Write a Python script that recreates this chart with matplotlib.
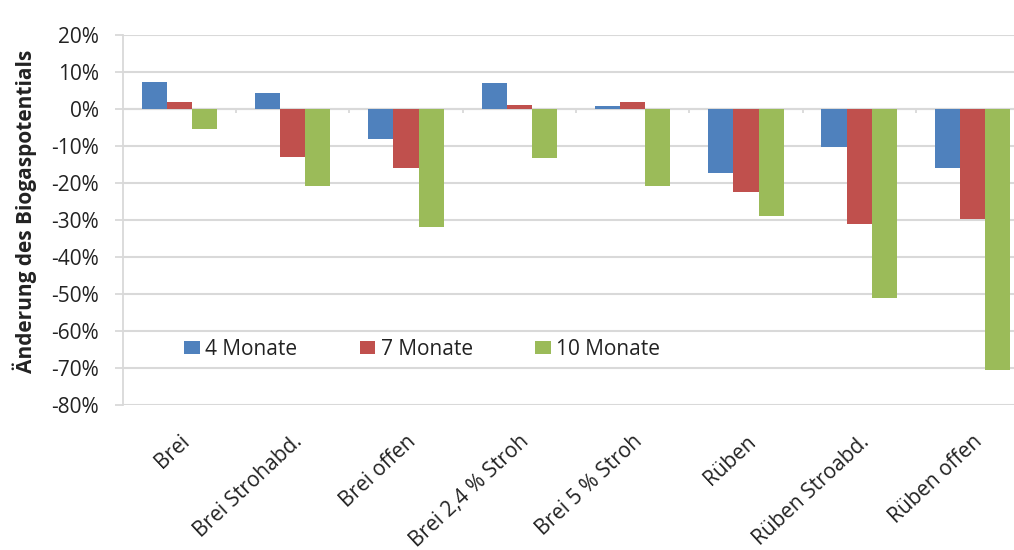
import matplotlib
matplotlib.use("Agg")
import matplotlib.pyplot as plt
import numpy as np
from matplotlib.patches import Patch

plt.rcParams['font.family'] = ['Open Sans', 'DejaVu Sans']

categories = ["Brei", "Brei Strohabd.", "Brei offen", "Brei 2,4 % Stroh",
              "Brei 5 % Stroh", "Rüben", "Rüben Stroabd.", "Rüben offen"]
series_names = ["4 Monate", "7 Monate", "10 Monate"]
m4 = [7.3, 4.2, -8.1, 7.0, 0.6, -17.3, -10.4, -16.0]
m7 = [1.8, -13.0, -16.0, 0.9, 1.8, -22.6, -31.2, -29.7]
m10 = [-5.6, -21.0, -32.1, -13.4, -20.9, -28.9, -51.1, -70.5]
y_ticks = [20, 10, 0, -10, -20, -30, -40, -50, -60, -70, -80]
colors = ["#4F81BD", "#C0504D", "#9BBB59"]
grid_color = "#D9D9D9"
text_color = "#222222"
fs = 15

fig = plt.figure(figsize=(10.14, 5.5), dpi=100)
ax = fig.add_axes([0.121, 0.264, 0.894, 0.673])

x = np.arange(len(categories))
bw = 1 / 4.5
for i, (vals, c) in enumerate(zip([m4, m7, m10], colors)):
    ax.bar(x + (i - 1) * bw, vals, width=bw, color=c, zorder=3)

ax.set_xlim(-0.5, len(categories) - 0.5)
ax.set_ylim(min(y_ticks), max(y_ticks))
ax.set_yticks(y_ticks)
ax.set_yticklabels([f"{t}%" for t in y_ticks], fontsize=fs, color=text_color)
ax.yaxis.grid(True, color=grid_color, linewidth=1.5, zorder=0)
ax.set_axisbelow(True)

for s in ["top", "right", "bottom"]:
    ax.spines[s].set_visible(False)
ax.spines["left"].set_color(grid_color)
ax.spines["left"].set_linewidth(1.3)
ax.tick_params(axis="y", length=6, width=1.3, color=grid_color, pad=11)

# zero line with category separator ticks
ax.axhline(0, color=grid_color, linewidth=1.5, zorder=2)
ax.vlines(x[:-1] + 0.5, -1.3, 0, color=grid_color, linewidth=1.3, zorder=2)

ax.set_xticks(x)
ax.set_xticklabels(categories, rotation=43, ha="right", va="top",
                   rotation_mode="anchor", fontsize=fs, color=text_color)
ax.tick_params(axis="x", length=0, pad=19)

ax.set_ylabel("Änderung des Biogaspotentials", fontsize=fs, fontweight="bold",
              color=text_color)
ax.yaxis.set_label_coords(-0.094, 0.523)

handles = [Patch(facecolor=c, edgecolor="none") for c in colors]
ax.legend(handles, series_names, loc="center left", bbox_to_anchor=(0.068, 0.150),
          ncol=3, frameon=False, fontsize=fs, handlelength=0.75, handleheight=0.6,
          handletextpad=0.25, columnspacing=3.0, borderaxespad=0, borderpad=0,
          labelcolor=text_color)

fig.savefig("out.png", dpi=100, facecolor="white")
